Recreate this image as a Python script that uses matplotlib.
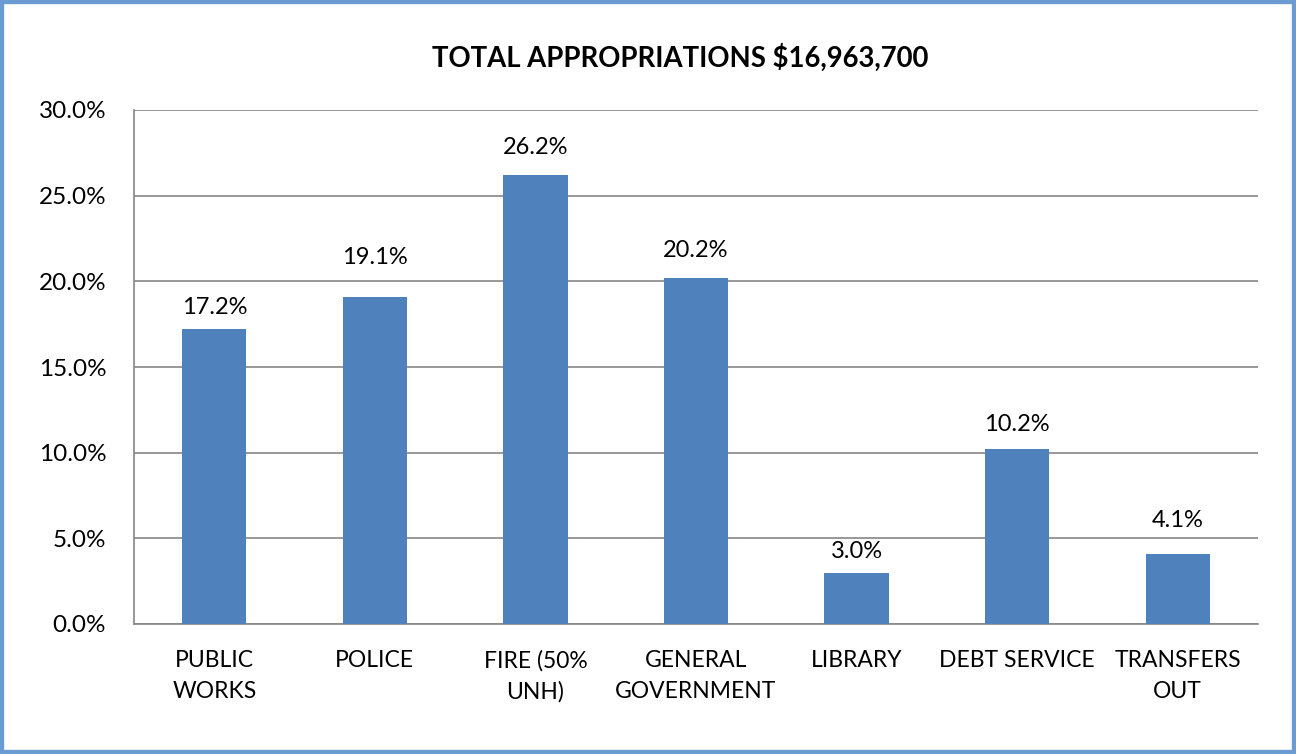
import matplotlib
matplotlib.use("Agg")
import matplotlib.pyplot as plt
from matplotlib.patches import Rectangle
from matplotlib.ticker import FuncFormatter, MultipleLocator

categories = ["PUBLIC\nWORKS", "POLICE", "FIRE (50%\nUNH)", "GENERAL\nGOVERNMENT",
              "LIBRARY", "DEBT SERVICE", "TRANSFERS\nOUT"]
values = [17.2, 19.1, 26.2, 20.2, 3.0, 10.2, 4.1]
title = "TOTAL APPROPRIATIONS $16,963,700"

# label placement (pixels from bar top to label centre), as in the original
label_gap_px = [22, 39, 28, 27, 21, 25, 33]

plt.rcParams['font.family'] = ['Lato', 'DejaVu Sans']

fig = plt.figure(figsize=(12.96, 7.54), dpi=100)
ax = fig.add_axes([134/1296, 1 - 624/754, (1258-134)/1296, (624-110)/754])

x = list(range(len(categories)))
bars = ax.bar(x, values, width=0.4, color="#4F81BD", zorder=3)
ax.set_xlim(-0.5, len(categories) - 0.5)
ax.set_ylim(0, 30)
ax.yaxis.set_major_locator(MultipleLocator(5))
ax.yaxis.set_major_formatter(FuncFormatter(lambda v, p: f"{v:.1f}%"))
ax.grid(axis="y", color="#868686", linewidth=1.2, zorder=0)
ax.set_xticks(x)
ax.set_xticklabels(categories, fontsize=16.5, linespacing=1.55)
ax.tick_params(axis="y", labelsize=17.5, length=0, pad=20)
ax.tick_params(axis="x", length=0, pad=19)
for s in ["top", "right"]:
    ax.spines[s].set_visible(False)
for s in ["left", "bottom"]:
    ax.spines[s].set_color("#868686")
    ax.spines[s].set_linewidth(1.2)

for b, v, g in zip(bars, values, label_gap_px):
    ax.annotate(f"{v:.1f}%", (b.get_x() + b.get_width()/2, v), xytext=(0, g * 0.72),
                textcoords="offset points", ha="center", va="center", fontsize=17)

fig.text(680/1296, 1 - 58/754, title, ha="center", va="center", fontsize=19.8, fontweight="bold")

fig.patches.append(Rectangle((0, 0), 1, 1, transform=fig.transFigure, fill=False,
                             edgecolor="#6A9BD2", linewidth=6, clip_on=True))

fig.savefig("out.png", dpi=100)
